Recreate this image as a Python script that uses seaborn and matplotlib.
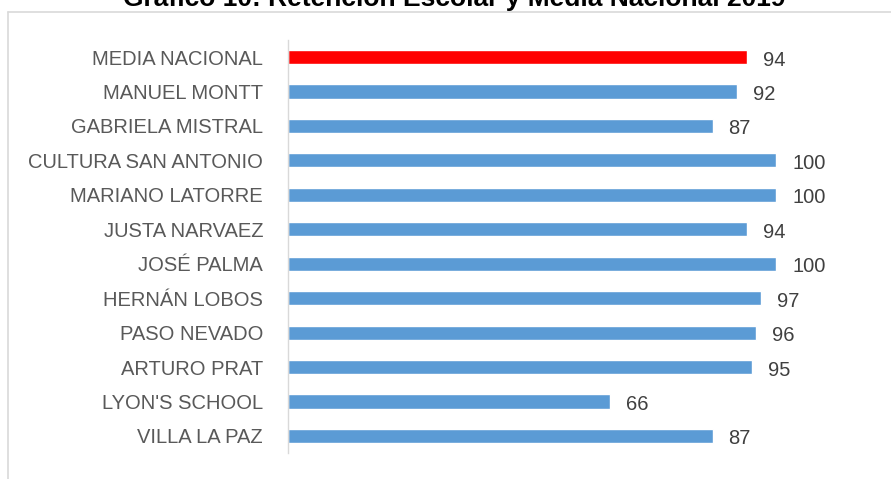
import matplotlib
matplotlib.use('Agg')
import matplotlib.pyplot as plt
import seaborn as sns
import pandas as pd

sns.set_style('white')
plt.rcParams['font.family'] = ['Liberation Sans', 'DejaVu Sans']

# datos del grafico
escuelas = ['MEDIA NACIONAL', 'MANUEL MONTT', 'GABRIELA MISTRAL', 'CULTURA SAN ANTONIO',
            'MARIANO LATORRE', 'JUSTA NARVAEZ', 'JOSÉ PALMA', 'HERNÁN LOBOS',
            'PASO NEVADO', 'ARTURO PRAT', "LYON'S SCHOOL", 'VILLA LA PAZ']
retencion = [94, 92, 87, 100, 100, 94, 100, 97, 96, 95, 66, 87]
titulo = 'Gráfico 10: Retención Escolar y Media Nacional 2019'

df = pd.DataFrame({'escuela': escuelas, 'retencion': retencion})
colores = ['#FF0000'] + ['#5B9BD5'] * (len(escuelas) - 1)

fig = plt.figure(figsize=(8.91, 4.79), dpi=100)
ax = fig.add_axes([288/891, 1 - 453.2/479, 488/891, 413.4/479])

sns.barplot(data=df, y='escuela', x='retencion', hue='escuela', palette=colores,
            legend=False, width=0.41, orient='h', ax=ax, saturation=1)

ax.set_xlim(0, 100)
ax.set_ylim(11.5, -0.5)
ax.set_xlabel('')
ax.set_ylabel('')
ax.set_xticks([])
ax.tick_params(axis='y', length=0, pad=18, labelsize=14.5, labelcolor='#595959')
for lbl in ax.get_yticklabels():
    lbl.set_y(lbl.get_position()[1])
for s in ['top', 'right', 'bottom']:
    ax.spines[s].set_visible(False)
ax.spines['left'].set_color('#d9d9d9')
ax.spines['left'].set_linewidth(1)

# etiquetas de valor
for i, v in enumerate(retencion):
    ax.annotate(str(v), (v, i), xytext=(16, -3), textcoords='offset pixels',
                ha='left', va='center', fontsize=14.5, color='#404040',
                annotation_clip=False)

# marco del area del grafico
fig.add_artist(plt.Line2D([8/891, 8/891], [0, 1 - 11.5/479], color='#d9d9d9', lw=1.2))
fig.add_artist(plt.Line2D([8/891, 1], [1 - 11.5/479, 1 - 11.5/479], color='#d9d9d9', lw=1.2))

fig.text(454/891, 1 - 6/479, titulo, ha='center', va='baseline',
         fontsize=19, fontweight='bold', color='black')

fig.savefig('out.png', dpi=100)
